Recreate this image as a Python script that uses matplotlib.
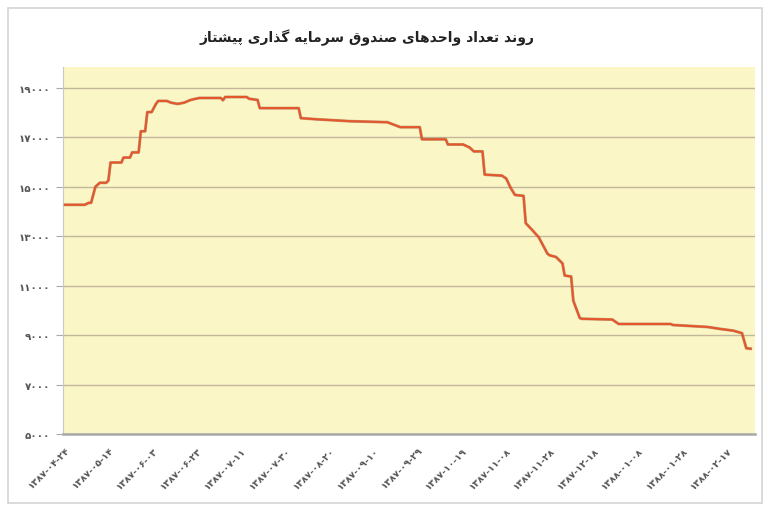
import matplotlib
matplotlib.use("Agg")
import matplotlib.pyplot as plt
import matplotlib.patheffects as pe
import numpy as np

# ---- data ----
days = [0, 9, 11, 12, 14, 16, 19, 20, 21, 26, 27, 30, 31, 34, 35, 37, 38, 40, 42, 43,
        47, 49, 52, 55, 58, 62, 72, 73, 74, 84, 85, 89, 90, 108, 109, 116, 132, 149,
        155, 164, 165, 176, 177, 184, 187, 189, 193, 194, 202, 204, 206, 208, 212, 213,
        216, 219, 223, 224, 227, 230, 231, 234, 235, 238, 239, 253, 256, 280, 281, 297,
        303, 309, 313, 315, 317]
units = [14270, 14270, 14350, 14350, 15000, 15160, 15160, 15250, 15980, 15980, 16180,
         16180, 16390, 16390, 17245, 17245, 18020, 18020, 18350, 18470, 18470, 18400,
         18350, 18400, 18510, 18590, 18590, 18500, 18630, 18630, 18560, 18510, 18180,
         18180, 17775, 17730, 17650, 17610, 17410, 17410, 16920, 16920, 16710, 16710,
         16590, 16430, 16430, 15490, 15450, 15330, 14960, 14670, 14630, 13530, 13250,
         12960, 12300, 12230, 12160, 11900, 11410, 11370, 10390, 9690, 9660, 9630, 9450,
         9450, 9410, 9330, 9250, 9180, 9080, 8470, 8450]

date_labels = ["۱۳۸۷-۰۴-۲۴", "۱۳۸۷-۰۵-۱۴", "۱۳۸۷-۰۶-۰۳", "۱۳۸۷-۰۶-۲۳",
               "۱۳۸۷-۰۷-۱۱", "۱۳۸۷-۰۷-۳۰", "۱۳۸۷-۰۸-۲۰", "۱۳۸۷-۰۹-۱۰",
               "۱۳۸۷-۰۹-۲۹", "۱۳۸۷-۱۰-۱۹", "۱۳۸۷-۱۱-۰۸", "۱۳۸۷-۱۱-۲۸",
               "۱۳۸۷-۱۲-۱۸", "۱۳۸۸-۰۱-۰۸", "۱۳۸۸-۰۱-۲۸", "۱۳۸۸-۰۲-۱۷"]
y_ticks = [5000, 7000, 9000, 11000, 13000, 15000, 17000, 19000]

title = "روند تعداد واحدهای صندوق سرمایه گذاری پیشتاز"

# ---- minimal Persian shaping (matplotlib has no RTL / joining support) ----
FORMS = {
    "ا": ("\uFE8D", "\uFE8E", None, None),
    "ب": ("\uFE8F", "\uFE90", "\uFE91", "\uFE92"),
    "ت": ("\uFE95", "\uFE96", "\uFE97", "\uFE98"),
    "ح": ("\uFEA1", "\uFEA2", "\uFEA3", "\uFEA4"),
    "د": ("\uFEA9", "\uFEAA", None, None),
    "ذ": ("\uFEAB", "\uFEAC", None, None),
    "ر": ("\uFEAD", "\uFEAE", None, None),
    "ز": ("\uFEAF", "\uFEB0", None, None),
    "س": ("\uFEB1", "\uFEB2", "\uFEB3", "\uFEB4"),
    "ش": ("\uFEB5", "\uFEB6", "\uFEB7", "\uFEB8"),
    "ص": ("\uFEB9", "\uFEBA", "\uFEBB", "\uFEBC"),
    "ع": ("\uFEC9", "\uFECA", "\uFECB", "\uFECC"),
    "ق": ("\uFED5", "\uFED6", "\uFED7", "\uFED8"),
    "ل": ("\uFEDD", "\uFEDE", "\uFEDF", "\uFEE0"),
    "م": ("\uFEE1", "\uFEE2", "\uFEE3", "\uFEE4"),
    "ن": ("\uFEE5", "\uFEE6", "\uFEE7", "\uFEE8"),
    "ه": ("\uFEE9", "\uFEEA", "\uFEEB", "\uFEEC"),
    "و": ("\uFEED", "\uFEEE", None, None),
    "پ": ("\uFB56", "\uFB57", "\uFB58", "\uFB59"),
    "گ": ("\uFB92", "\uFB93", "\uFB94", "\uFB95"),
    "ی": ("\uFBFC", "\uFBFD", "\uFBFE", "\uFBFF"),
}


def shape_rtl(text):
    out = []
    for i, ch in enumerate(text):
        if ch not in FORMS:
            out.append(ch)
            continue
        prev = text[i - 1] if i > 0 else ""
        nxt = text[i + 1] if i + 1 < len(text) else ""
        join_prev = prev in FORMS and FORMS[prev][2] is not None
        join_next = nxt in FORMS and FORMS[ch][2] is not None
        iso, fin, ini, med = FORMS[ch]
        if join_prev and join_next:
            out.append(med)
        elif join_prev:
            out.append(fin)
        elif join_next:
            out.append(ini)
        else:
            out.append(iso)
    return "".join(out)[::-1]


def fa_digits(n):
    return str(n).translate(str.maketrans("0123456789", "۰۱۲۳۴۵۶۷۸۹"))


plt.rcParams["font.family"] = ["DejaVu Sans"]

fig = plt.figure(figsize=(7.68, 5.10), dpi=100, facecolor="white")
# card border
fig.patches.append(plt.Rectangle((0.010, 0.012), 0.982, 0.970, transform=fig.transFigure,
                                 facecolor="white", edgecolor="#d4d4d4", linewidth=1.2,
                                 zorder=-1))

ax = fig.add_axes([0.082, 0.147, 0.901, 0.720])
ax.set_facecolor("#fbf6c6")

ax.plot(days, units, color="#e4572c", linewidth=1.5, solid_joinstyle="round",
        path_effects=[pe.Stroke(linewidth=2.1, foreground="#8f4a2c", alpha=0.5), pe.Normal()],
        zorder=3)

ax.set_xlim(-1, 319)
ax.set_ylim(5000, 19850)
ax.set_yticks(y_ticks)
ax.set_yticklabels([fa_digits(v) for v in y_ticks], fontsize=7.5, fontweight="bold",
                   color="#555555")
ax.yaxis.grid(True, color="#c2b79a", linewidth=1.0)
ax.set_axisbelow(True)

tick_pos = np.linspace(0, 306, len(date_labels))
ax.set_xticks(tick_pos)
ax.set_xticklabels(date_labels, rotation=45, ha="right", rotation_mode="anchor",
                   fontsize=6.8, fontweight="bold", color="#555555")
ax.tick_params(axis="x", length=0, pad=8)
ax.tick_params(axis="y", length=5, color="#aaaaaa", pad=4)

for side in ["top", "right"]:
    ax.spines[side].set_visible(False)
ax.spines["left"].set_color("#c8c8c8")
ax.spines["bottom"].set_color("#a8a8a8")
ax.spines["bottom"].set_linewidth(1.8)

fig.text(0.478, 0.925, shape_rtl(title), ha="center", va="center", fontsize=10,
         fontweight="bold", color="#222222")

fig.savefig("out.png", dpi=100, facecolor="white")
